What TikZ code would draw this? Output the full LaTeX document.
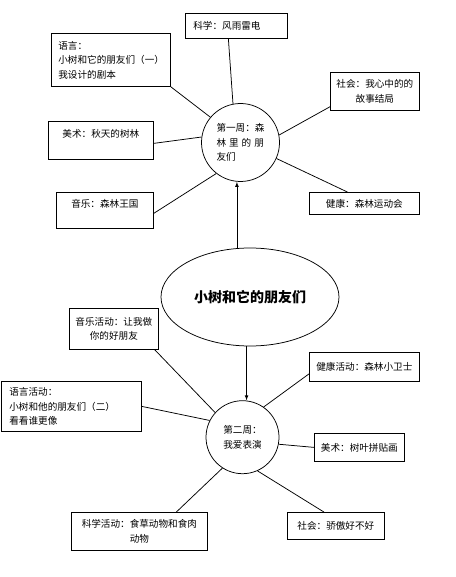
\documentclass[tikz,border=0pt]{standalone}
\usepackage{fontspec}
\setmainfont{Noto Sans CJK SC}
\usetikzlibrary{shapes.geometric}

\begin{document}
\begin{tikzpicture}[x=1pt,y=-1pt,line width=0.75pt,
  every node/.style={font=\fontsize{9.6}{14.5}\selectfont},
  box/.style={draw,anchor=north west,inner sep=0pt,align=center},
  lbox/.style={box,inner xsep=7pt,align=left},
  week/.style={circle,draw,inner sep=0pt,align=left}]
\useasboundingbox (0,0) rectangle (455,577);

\node[ellipse,draw,minimum width=178pt,minimum height=98pt,inner sep=0pt,
  font=\fontsize{14}{16}\selectfont\bfseries] (main) at (250,297) {小树和它的朋友们};

\node[week,minimum size=78pt] (week1) at (240.5,142.5)
  {第一周：森\\林\hspace{3pt}里\hspace{3pt}的\hspace{3pt}朋\\友们};
\node[week,minimum size=73pt] (week2) at (242.5,437.2) {第二周：\\我爱表演};

\node[lbox,inner xsep=8pt,text width=86pt,minimum height=25pt] (kexue) at (185,13) {科学：风雨雷电};
\node[lbox,text width=105pt,minimum height=53pt] (yuyan) at (51,33)
  {语言：\\小树和它的朋友们（一）\\我设计的剧本};
\node[box,minimum width=89pt,minimum height=38pt] (shehui) at (330,72) {社会：我心中的的\\故事结局};
\node[box,minimum width=105pt,text height=16.6pt,text depth=21.4pt] (meishu) at (48,121) {美术：秋天的树林};
\node[box,minimum width=97pt,text height=15.6pt,text depth=20.4pt] (yinyue) at (56,192) {音乐：森林王国};
\node[box,minimum width=110pt,minimum height=22pt] (jiankang) at (309,192) {健康：森林运动会};

\node[box,minimum width=89pt,minimum height=41pt] (yinyue2) at (69,308) {音乐活动：让我做\\你的好朋友};
\node[lbox,inner xsep=8pt,text width=124pt,minimum height=50pt] (yuyan2) at (1,381)
  {语言活动：\\小树和他的朋友们（二）\\看看谁更像};
\node[box,minimum width=110pt,minimum height=29pt] (jiankang2) at (309,352) {健康活动：森林小卫士};
\node[box,minimum width=90pt,minimum height=28pt] (meishu2) at (314,433) {美术：树叶拼贴画};
\node[box,minimum width=136pt,minimum height=38pt] (kexue2) at (71,512) {科学活动：食草动物和食肉\\动物};
\node[box,minimum width=97pt,minimum height=27pt] (shehui2) at (287,512) {社会：骄傲好不好};

% week 1
\draw (week1.101) -- ([xshift=-8pt]kexue.south);
\draw (week1.140) -- (yuyan.south east);
\draw (week1.11.5) -- ([yshift=4pt]shehui.south west);
\draw (week1.172) -- ([yshift=-3pt]meishu.east);
\draw (week1.232) -- ([yshift=-3pt]yinyue.east);
\draw (week1.336) -- ([xshift=-17pt]jiankang.north);

% week 2
\draw (week2.138) -- ([xshift=-4pt]yinyue2.south east);
\draw (week2.153) -- (yuyan2.east);
\draw (week2.55) -- ([yshift=-7pt]jiankang2.west);
\draw (week2.349) -- (meishu2.west);
\draw (week2.237) -- ([xshift=37pt]kexue2.north);
\draw (week2.294) -- ([xshift=-12pt]shehui2.north);

\draw[-latex] (main.105) -- (main.105 |- week1.south);
\draw[-latex] (main.266) -- (main.266 |- week2.north);
\end{tikzpicture}
\end{document}
